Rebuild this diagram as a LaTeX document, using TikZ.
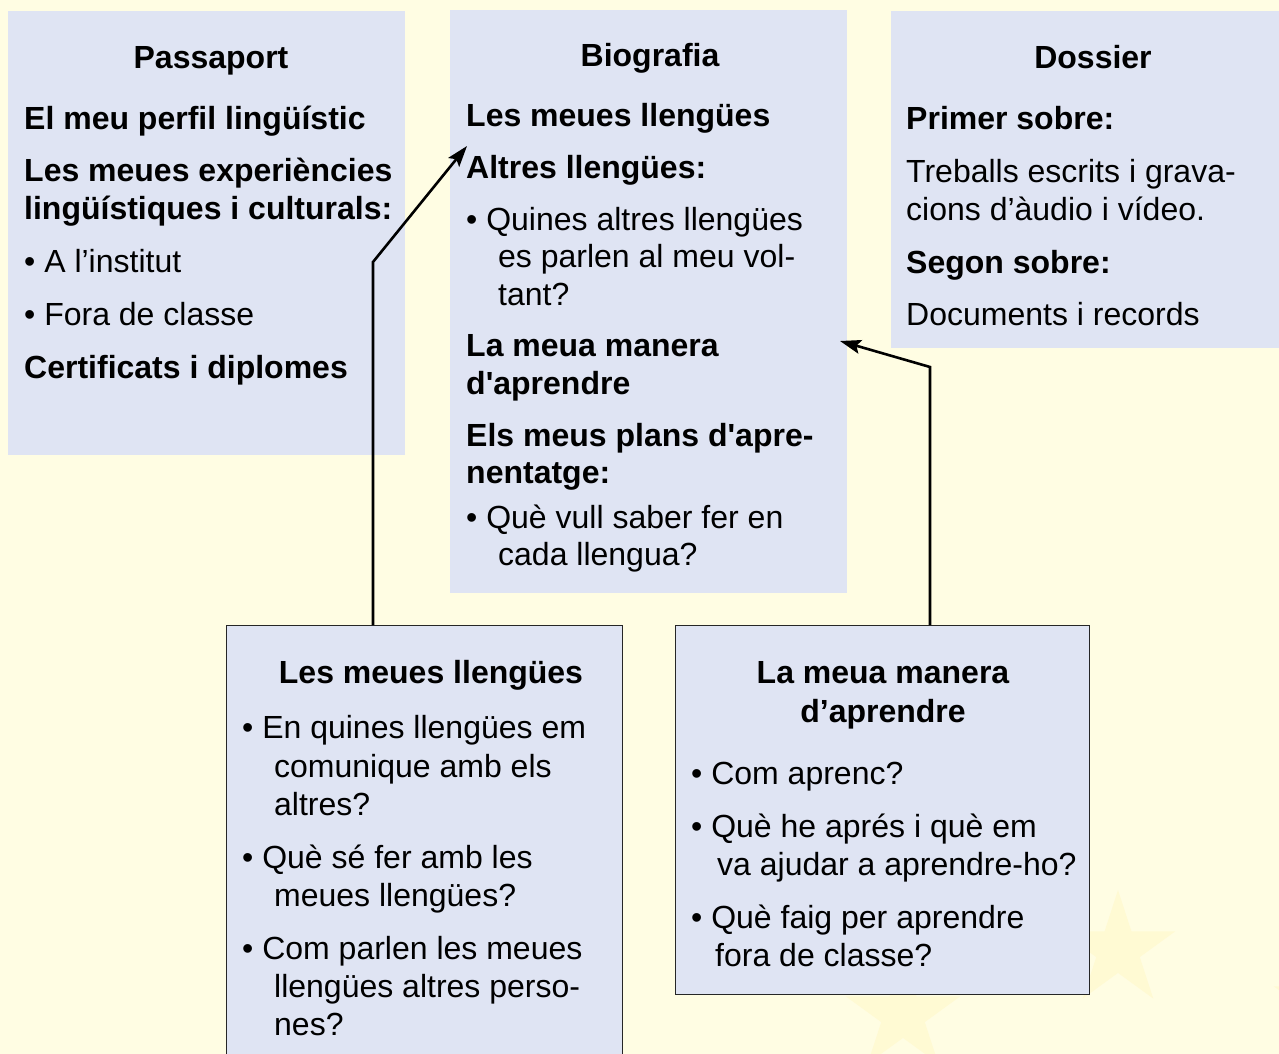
\documentclass[tikz,border=0pt]{standalone}
\usepackage{fontspec}
\setmainfont{Liberation Sans}
\usetikzlibrary{arrows.meta,shapes.geometric}
\definecolor{bgy}{HTML}{FFFDE3}
\definecolor{boxb}{HTML}{DFE4F3}
\definecolor{stary}{HTML}{FFFAD3}
\begin{document}
\begin{tikzpicture}[x=1pt,y=-1pt,
  rg/.style={anchor=base west,inner sep=0pt,font=\fontsize{32}{37}\selectfont},
  bd/.style={anchor=base west,inner sep=0pt,font=\fontsize{32}{37}\selectfont\bfseries},
  ttl/.style={anchor=base,inner sep=0pt,font=\fontsize{32}{37}\selectfont\bfseries},
  pbox/.style={fill=boxb,draw=none,anchor=north west,inner sep=0pt},
  fbox/.style={fill=boxb,draw=black!85,line width=1.2pt,anchor=north west,inner sep=0pt},
  faintstar/.style={star,star points=5,star point ratio=2.618,minimum size=120pt,fill=stary,draw=none,inner sep=0pt},
  conn/.style={draw=black,line width=2.6pt,-{Stealth[length=21pt,width=14pt,inset=4pt]}}]
\path[use as bounding box] (0,0) rectangle (1279,1054);
\clip (0,0) rectangle (1279,1054);
\fill[bgy] (0,0) rectangle (1279,1054);
% faint stars
\node[faintstar] (s1) at (1118,950) {};
\node[faintstar] (s2) at (903,1015) {};
\node[faintstar] (s3) at (1331,1005) {};
% boxes
\node[pbox,minimum width=397pt,minimum height=444pt] (pass) at (8,11) {};
\node[pbox,minimum width=397pt,minimum height=583pt] (bio) at (450,10) {};
\node[pbox,minimum width=400pt,minimum height=337pt] (dos) at (891,11) {};
\node[fbox,minimum width=396pt,minimum height=450pt] (llb) at (226,625) {};
\node[fbox,minimum width=414pt,minimum height=369pt] (lmb) at (675,625) {};
% Passaport
\node[ttl] (p0) at (211,69) {Passaport};
\node[bd] (p1) at (24,129) {El meu perfil lingüístic};
\node[bd] (p2) at (24,181) {Les meues experiències};
\node[bd] (p3) at (24,219) {lingüístiques i culturals:};
\node[rg] (p4) at (24,272) {• A l’institut};
\node[rg] (p5) at (24,325) {• Fora de classe};
\node[bd] (p6) at (24,378) {Certificats i diplomes};
% Biografia
\node[ttl] (b0) at (650,67) {Biografia};
\node[bd] (b1) at (466,127) {Les meues llengües};
\node[bd] (b2) at (466,178) {Altres llengües:};
\node[rg] (b3) at (466,230) {• Quines altres llengües};
\node[rg] (b4) at (498,267) {es parlen al meu vol-};
\node[rg] (b5) at (498,305) {tant?};
\node[bd] (b6) at (466,356) {La meua manera};
\node[bd] (b7) at (466,394) {d\textquotesingle aprendre};
\node[bd] (b8) at (466,446) {Els meus plans d\textquotesingle apre-};
\node[bd] (b9) at (466,483) {nentatge:};
\node[rg] (b10) at (466,528) {• Què vull saber fer en};
\node[rg] (b11) at (498,565) {cada llengua?};
% Dossier
\node[ttl] (d0) at (1093,69) {Dossier};
\node[bd] (d1) at (906,129) {Primer sobre:};
\node[rg] (d2) at (906,182) {Treballs escrits i grava-};
\node[rg] (d3) at (906,220) {cions d’àudio i vídeo.};
\node[bd] (d4) at (906,273) {Segon sobre:};
\node[rg] (d5) at (906,325) {Documents i records};
% Les meues llengues (bottom left)
\node[ttl] (l0) at (431,683) {Les meues llengües};
\node[rg] (l1) at (242,738) {• En quines llengües em};
\node[rg] (l2) at (274,777) {comunique amb els};
\node[rg] (l3) at (274,815) {altres?};
\node[rg] (l4) at (242,868) {• Què sé fer amb les};
\node[rg] (l5) at (274,906) {meues llengües?};
\node[rg] (l6) at (242,959) {• Com parlen les meues};
\node[rg] (l7) at (274,997) {llengües altres perso-};
\node[rg] (l8) at (274,1035) {nes?};
% La meua manera d'aprendre (bottom right)
\node[ttl] (m0) at (883,683) {La meua manera};
\node[ttl] (m1) at (883,722) {d’aprendre};
\node[rg] (m2) at (691,784) {• Com aprenc?};
\node[rg] (m3) at (691,837) {• Què he aprés i què em};
\node[rg] (m4) at (717,875) {va ajudar a aprendre-ho?};
\node[rg] (m5) at (691,928) {• Què faig per aprendre};
\node[rg] (m6) at (715,966) {fora de classe?};
% connectors
\coordinate (k1) at (373,262);
\coordinate (t1) at (467,146);
\coordinate (k2) at (930,367);
\coordinate (t2) at (840,341);
\draw[conn] (llb.north -| k1) -- (k1) -- (t1);
\draw[conn] (lmb.north -| k2) -- (k2) -- (t2);
\end{tikzpicture}
\end{document}
